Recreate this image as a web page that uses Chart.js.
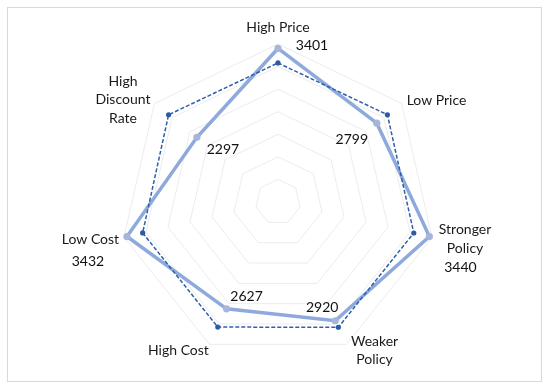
<!DOCTYPE html>
<html>
<head>
<meta charset="utf-8">
<script src="https://cdn.jsdelivr.net/npm/chart.js@4"></script>
<style>
  html, body { margin: 0; padding: 0; background: #fff; }
  #wrap { width: 550px; height: 391px; }
</style>
</head>
<body>
<div id="wrap"><canvas id="radar"></canvas></div>
<script>
const categories = [
	"High Price",
	"Low Price",
	["Stronger", "Policy"],
	["Weaker", "Policy"],
	"High Cost",
	"Low Cost",
	["High", "Discount", "Rate"],
];
const scenarioValues = [3401, 2799, 3440, 2920, 2627, 3432, 2297];
const referenceValues = [3080, 3100, 3085, 3080, 3075, 3075, 3100];
const radialTicks = [0, 500, 1000, 1500, 2000, 2500, 3000, 3500];

// label placement, relative to the outer vertex / the data point
const categoryOffsets = [[0, -16.5], [35, -3], [33, 2], [28, 6], [-31, 6], [-33.5, 2], [-31.5, -3.7]];
const labelOffsets = [[34, -3], [-25, 16], [31, 31], [-13, -13], [20, -12], [-39, 25], [26, 12]];

const frame = {
	id: "frame",
	beforeDraw(chart) {
		const ctx = chart.ctx;
		ctx.save();
		ctx.fillStyle = "#fff";
		ctx.fillRect(0, 0, chart.width, chart.height);
		ctx.strokeStyle = "#d9d9d9";
		ctx.lineWidth = 1;
		ctx.strokeRect(7.5, 7.5, 534, 374);
		ctx.restore();
	},
};

// category names, centred the way the original spreadsheet chart puts them
const categoryLabels = {
	id: "categoryLabels",
	afterDraw(chart) {
		const scale = chart.scales.r;
		const ctx = chart.ctx;
		const lineHeight = 18.5;
		ctx.save();
		ctx.font = "14px Lato";
		ctx.fillStyle = "#1a1a1a";
		ctx.textAlign = "center";
		ctx.textBaseline = "middle";
		categories.forEach((cat, i) => {
			const lines = Array.isArray(cat) ? cat : [cat];
			const pos = scale.getPointPosition(i, scale.drawingArea);
			const cx = pos.x + categoryOffsets[i][0];
			const cy = pos.y + categoryOffsets[i][1];
			const top = cy - ((lines.length - 1) * lineHeight) / 2;
			lines.forEach((line, j) => ctx.fillText(line, cx, top + j * lineHeight));
		});
		ctx.restore();
	},
};

const valueLabels = {
	id: "valueLabels",
	afterDatasetsDraw(chart) {
		const ctx = chart.ctx;
		const meta = chart.getDatasetMeta(1);
		ctx.save();
		ctx.font = "14px Lato";
		ctx.fillStyle = "#111";
		ctx.textAlign = "center";
		ctx.textBaseline = "middle";
		meta.data.forEach((pt, i) => {
			ctx.fillText(String(scenarioValues[i]), pt.x + labelOffsets[i][0], pt.y + labelOffsets[i][1]);
		});
		ctx.restore();
	},
};

new Chart(document.getElementById("radar"), {
	type: "radar",
	data: {
		labels: categories,
		datasets: [
			{
				label: "Reference",
				data: referenceValues,
				borderColor: "#2f5fa8",
				backgroundColor: "#2f5fa8",
				borderWidth: 1.5,
				borderDash: [4, 2],
				fill: false,
				pointRadius: 2.6,
				pointBorderWidth: 0,
				pointBackgroundColor: "#2a5ba6",
			},
			{
				label: "Scenario",
				data: scenarioValues,
				borderColor: "#8ea9db",
				backgroundColor: "#8ea9db",
				borderWidth: 3.5,
				fill: false,
				pointRadius: 3.6,
				pointBorderWidth: 0,
				pointBackgroundColor: "#a6b5da",
			},
		],
	},
	options: {
		responsive: true,
		maintainAspectRatio: false,
		animation: false,
		layout: {
			padding: { top: 44, bottom: 30, left: 20, right: 13 },
		},
		plugins: {
			legend: { display: false },
			tooltip: { enabled: false },
		},
		scales: {
			r: {
				min: radialTicks[0],
				max: radialTicks[radialTicks.length - 1],
				ticks: { display: false, stepSize: radialTicks[1] - radialTicks[0] },
				grid: { color: "#ececec", lineWidth: 1 },
				angleLines: { display: false },
				pointLabels: { display: false },
			},
		},
	},
	plugins: [frame, categoryLabels, valueLabels],
});
</script>
</body>
</html>
